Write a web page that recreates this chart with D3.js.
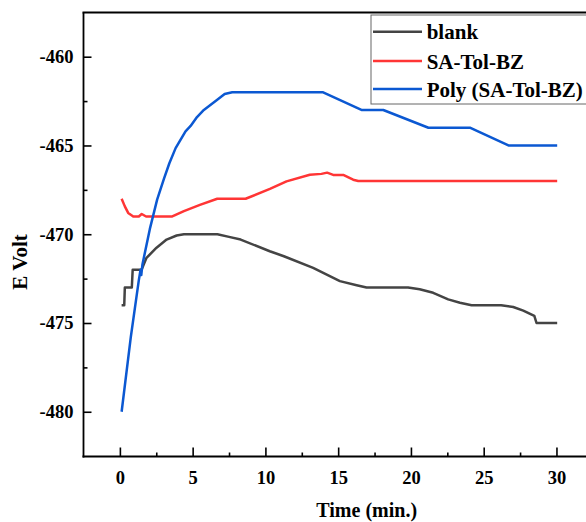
<!DOCTYPE html>
<html>
<head>
<meta charset="utf-8">
<script src="https://cdn.jsdelivr.net/npm/d3@7"></script>
<style>
  html, body { margin: 0; padding: 0; background: #fff; }
  svg { display: block; }
  text { font-family: "Liberation Serif", "Times New Roman", serif; font-weight: bold; fill: #000; }
</style>
</head>
<body>
<svg id="chart" width="586" height="522"></svg>
<script>
// Open-circuit potential vs. time, [time (min), E (mV)]
const blank = [
  [0.12, -474.0], [0.30, -474.0], [0.34, -473.0], [0.82, -473.0], [0.88, -472.0],
  [1.49, -472.0], [1.83, -471.33], [2.52, -470.76], [3.21, -470.3], [3.90, -470.07],
  [4.40, -470.0], [6.70, -470.0], [7.50, -470.15], [8.30, -470.3], [10.30, -470.96],
  [11.27, -471.24], [13.28, -471.9], [15.12, -472.64], [16.27, -472.87], [16.95, -473.0],
  [19.80, -473.0], [20.60, -473.1], [21.53, -473.3], [22.56, -473.67], [23.37, -473.86],
  [24.17, -474.0], [26.20, -474.0], [27.03, -474.1], [27.72, -474.3], [28.48, -474.6],
  [28.63, -475.0], [30.05, -475.0]
];
const saTolBz = [
  [0.12, -468.0], [0.34, -468.43], [0.57, -468.8], [0.92, -469.0], [1.30, -469.0],
  [1.50, -468.86], [1.80, -469.0], [3.60, -469.0], [4.40, -468.7], [5.50, -468.35],
  [6.69, -468.0], [8.64, -468.0], [10.31, -467.45], [11.45, -467.02], [13.05, -466.65],
  [13.85, -466.6], [14.24, -466.53], [14.66, -466.66], [15.35, -466.66], [16.03, -466.93],
  [16.38, -467.0], [30.05, -467.0]
];
const polySaTolBz = [
  [0.12, -480.0], [0.75, -475.8], [1.30, -472.6], [1.42, -472.0], [1.47, -472.3],
  [1.55, -471.7], [2.06, -469.7], [2.56, -468.05], [3.02, -466.9], [3.40, -466.0],
  [3.83, -465.15], [4.51, -464.2], [4.86, -463.9], [5.30, -463.4], [5.77, -463.0],
  [6.69, -462.43], [7.20, -462.1], [7.72, -462.0], [13.93, -462.0], [16.60, -463.0],
  [18.10, -463.0], [21.20, -464.0], [24.05, -464.0], [26.70, -465.0], [30.05, -465.0]
];

const seriesNames = ["blank", "SA-Tol-BZ", "Poly (SA-Tol-BZ)"];
const seriesColors = ["#444444", "#ff3535", "#0b58d2"];
const seriesData = [blank, saTolBz, polySaTolBz];

const xMajorTicks = [0, 5, 10, 15, 20, 25, 30];
const xMinorTicks = [2.5, 7.5, 12.5, 17.5, 22.5, 27.5];
const yMajorTicks = [-480, -475, -470, -465, -460];
const yMinorTicks = [-477.5, -472.5, -467.5, -462.5];

const svg = d3.select("#chart");
const W = 586, H = 522;
svg.append("rect").attr("width", W).attr("height", H).attr("fill", "#fff");

const plotLeft = 83.5, plotTop = 12.5, plotBottom = 456.5;
const x = d3.scaleLinear().domain([-2.5, 32.03]).range([plotLeft, 586]);
const y = d3.scaleLinear().domain([-482.52, -457.51]).range([plotBottom, plotTop]);

// curves
const line = d3.line().x(d => x(d[0])).y(d => y(d[1]));
seriesData.forEach((data, i) => {
  svg.append("path")
    .datum(data)
    .attr("fill", "none")
    .attr("stroke", seriesColors[i])
    .attr("stroke-width", 2.5)
    .attr("stroke-linejoin", "round")
    .attr("d", line);
});

// axes: ticks point inward; labels use a plain hyphen for the sign
const plainFormat = d => String(d);
const yAxis = svg.append("g").attr("transform", `translate(${plotLeft},0)`)
  .call(d3.axisLeft(y).tickValues(yMajorTicks).tickSizeInner(-8).tickSizeOuter(0).tickPadding(10).tickFormat(plainFormat));
const yMinor = svg.append("g").attr("transform", `translate(${plotLeft},0)`)
  .call(d3.axisLeft(y).tickValues(yMinorTicks).tickSizeInner(-4).tickSizeOuter(0).tickFormat(""));
const xAxis = svg.append("g").attr("transform", `translate(0,${plotBottom})`)
  .call(d3.axisBottom(x).tickValues(xMajorTicks).tickSizeInner(-9).tickSizeOuter(0).tickPadding(14).tickFormat(plainFormat));
const xMinor = svg.append("g").attr("transform", `translate(0,${plotBottom})`)
  .call(d3.axisBottom(x).tickValues(xMinorTicks).tickSizeInner(-4).tickSizeOuter(0).tickFormat(""));

[yAxis, yMinor, xAxis, xMinor].forEach(g => {
  g.select(".domain").remove();
  g.selectAll(".tick line").attr("stroke", "#000").attr("stroke-width", 1.6);
  g.selectAll(".tick text")
    .style("font-family", "'Liberation Serif', 'Times New Roman', serif")
    .style("font-weight", "bold")
    .style("font-size", "18.5px")
    .style("fill", "#000");
});
xAxis.selectAll(".tick text").attr("dy", "0.71em");

// frame lines (left, bottom, top)
svg.append("line").attr("x1", plotLeft).attr("x2", plotLeft).attr("y1", plotTop).attr("y2", plotBottom + 1)
  .attr("stroke", "#000").attr("stroke-width", 1.8);
svg.append("line").attr("x1", plotLeft - 1).attr("x2", W).attr("y1", plotBottom).attr("y2", plotBottom)
  .attr("stroke", "#000").attr("stroke-width", 1.8);
svg.append("line").attr("x1", plotLeft - 1).attr("x2", W).attr("y1", plotTop).attr("y2", plotTop)
  .attr("stroke", "#000").attr("stroke-width", 1.8);

// axis titles
svg.append("text")
  .attr("x", 366.7).attr("y", 517)
  .attr("text-anchor", "middle")
  .style("font-size", "20px")
  .text("Time (min.)");
svg.append("text")
  .attr("transform", "translate(27,262) rotate(-90)")
  .attr("text-anchor", "middle")
  .style("font-size", "21px")
  .text("E Volt");

// legend
const legend = svg.append("g");
legend.append("rect")
  .attr("x", 371).attr("y", 15).attr("width", 260).attr("height", 89)
  .attr("fill", "#fff").attr("stroke", "#666").attr("stroke-width", 1);
const legendRowY = [31.7, 61, 89];
seriesNames.forEach((name, i) => {
  legend.append("line")
    .attr("x1", 373).attr("x2", 422)
    .attr("y1", legendRowY[i]).attr("y2", legendRowY[i])
    .attr("stroke", seriesColors[i]).attr("stroke-width", 2.6);
  legend.append("text")
    .attr("x", 426.7).attr("y", legendRowY[i] + 7.5)
    .style("font-size", "21px")
    .text(name);
});
</script>
</body>
</html>
